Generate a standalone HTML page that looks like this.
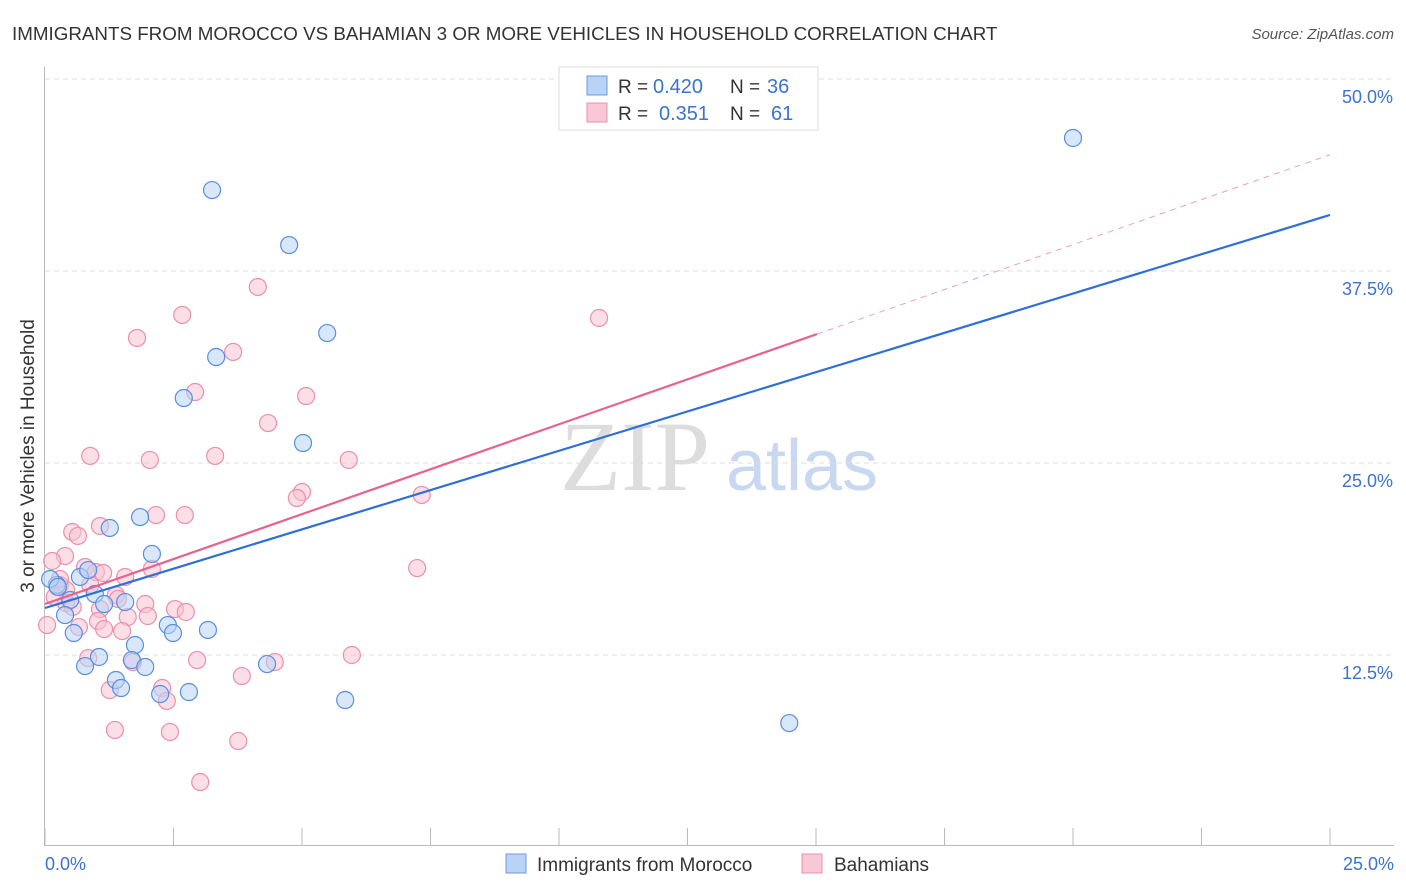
<!DOCTYPE html>
<html><head><meta charset="utf-8"><style>
body{margin:0;background:#fff;font-family:"Liberation Sans",sans-serif}
#wrap{position:relative;width:1406px;height:892px;overflow:hidden}
</style></head><body>
<div id="wrap">
<svg id="svg" width="1406" height="892" xmlns="http://www.w3.org/2000/svg">
<text x="12" y="40" font-size="18.8" fill="#333">IMMIGRANTS FROM MOROCCO VS BAHAMIAN 3 OR MORE VEHICLES IN HOUSEHOLD CORRELATION CHART</text>
<text x="1394" y="39" font-size="15" fill="#555" font-style="italic" text-anchor="end">Source: ZipAtlas.com</text>
<text x="34" y="456" font-size="19" fill="#333" text-anchor="middle" transform="rotate(-90 34 456)">3 or more Vehicles in Household</text>
<g><text x="635" y="490" font-size="100" fill="#ddd" font-family="Liberation Serif" text-anchor="middle">ZIP</text><text x="802" y="490" font-size="72" fill="#c8d8f0" text-anchor="middle">atlas</text></g>
<g id="grid"></g><g id="axes"></g><g id="pts"></g><g id="lines"></g>
<g>
<rect x="559" y="67" width="259" height="63" fill="#fff" stroke="#ddd"/>
<rect x="587" y="76" width="20" height="19" fill="#b8d3f5" stroke="#6a9be0"/>
<rect x="587" y="103" width="20" height="19" fill="#f8c8d6" stroke="#ec8fad"/>
<text x="618" y="93" font-size="19" fill="#333">R =</text>
<text x="653" y="93" font-size="20" fill="#3b73d1">0.420</text>
<text x="730" y="93" font-size="19" fill="#333">N =</text>
<text x="767" y="93" font-size="20" fill="#3b73d1">36</text>
<text x="618" y="120" font-size="19" fill="#333">R =</text>
<text x="659" y="120" font-size="20" fill="#3b73d1">0.351</text>
<text x="730" y="120" font-size="19" fill="#333">N =</text>
<text x="771" y="120" font-size="20" fill="#3b73d1">61</text>
</g>
<g>
<rect x="506" y="854" width="20" height="19" fill="#b8d3f5" stroke="#6a9be0"/>
<text x="537" y="871" font-size="19" fill="#333">Immigrants from Morocco</text>
<rect x="802" y="854" width="20" height="19" fill="#f8c8d6" stroke="#ec8fad"/>
<text x="834" y="871" font-size="19" fill="#333">Bahamians</text>
</g>
</svg></div>
<script>
const xTicks=[0,2.5,5,7.5,10,12.5,15,17.5,20,22.5,25];
const yTicks=[12.5,25,37.5,50];
const yTickLabels=["12.5%","25.0%","37.5%","50.0%"];
const blueX=[3.25,4.75,20.0,5.49,3.33,2.70,5.02,1.85,1.26,2.08,0.68,0.84,0.23,0.97,0.49,1.15,1.56,0.39,0.56,2.39,2.49,3.17,1.75,1.05,0.78,1.69,1.95,4.32,1.38,1.48,2.24,2.80,5.84,14.48,0.10,0.25];
const blueY=[42.77,39.19,46.16,33.46,31.90,29.23,26.30,21.48,20.77,19.08,17.58,18.03,17.06,16.47,16.08,15.82,15.95,15.10,13.93,14.45,13.93,14.13,13.15,12.37,11.78,12.17,11.72,11.91,10.87,10.35,9.96,10.09,9.57,8.07,17.45,16.93];
const pinkX=[4.14,2.67,1.79,3.66,10.78,2.92,5.08,4.34,0.88,2.04,3.31,5.91,5.00,4.90,7.33,2.16,2.72,0.53,1.07,0.64,0.39,0.14,0.78,0.99,1.56,2.08,7.24,0.29,0.41,0.88,1.38,0.41,0.54,1.07,1.95,2.53,1.61,2.00,1.03,0.66,1.15,1.50,0.04,0.84,1.71,2.96,4.47,5.97,2.28,3.83,1.26,2.37,1.36,2.43,3.76,3.02,0.29,0.19,1.42,1.13,2.74];
const pinkY=[36.46,34.64,33.14,32.23,34.44,29.62,29.36,27.60,25.46,25.20,25.46,25.20,23.11,22.72,22.92,21.61,21.61,20.51,20.90,20.25,18.94,18.62,18.23,17.90,17.58,18.10,18.16,17.06,16.73,17.06,16.41,15.89,15.63,15.49,15.82,15.49,14.97,15.04,14.71,14.32,14.19,14.06,14.45,12.30,12.04,12.17,12.04,12.50,10.35,11.13,10.22,9.51,7.62,7.49,6.90,4.23,17.45,16.28,16.15,17.84,15.30];
const blueFit=[15.56,41.15];
const pinkFit=[15.82,1.170];
const pinkSolidEnd=15.02;
const NS="http://www.w3.org/2000/svg";
const X=v=>45+v/25*1285, Y=v=>847-v*15.36;
function mk(t,a,p){const e=document.createElementNS(NS,t);for(const k in a)e.setAttribute(k,a[k]);p.appendChild(e);return e;}
const grid=document.getElementById('grid'),axes=document.getElementById('axes'),pts=document.getElementById('pts'),lines=document.getElementById('lines');
yTicks.forEach((v,i)=>{
 const l=mk('line',{x1:45,x2:1394,y1:Y(v),y2:Y(v),stroke:'#ddd','stroke-dasharray':'5,4'},grid);
 
 
 const t=mk('text',{x:1393,y:Y(v)+24,'font-size':18,fill:'#3b73d1','text-anchor':'end'},axes);t.textContent=yTickLabels[i];
 
 
});
mk('line',{x1:44.5,x2:44.5,y1:67,y2:846,stroke:'#bbb'},axes);
mk('line',{x1:44,x2:1394,y1:845.5,y2:845.5,stroke:'#bbb'},axes);
xTicks.forEach(v=>{const l=mk('line',{x1:X(v),x2:X(v),y1:828,y2:845,stroke:'#bbb'},axes);
 
 });
let t=mk('text',{x:45,y:870,'font-size':18,fill:'#3b73d1'},axes);t.textContent='0.0%';


t=mk('text',{x:1394,y:870,'font-size':18,fill:'#3b73d1','text-anchor':'end'},axes);t.textContent='25.0%';


function dots(xs,ys,fill,stroke,name){xs.forEach((x,i)=>{const c=mk('circle',{cx:X(x),cy:Y(ys[i]),r:8.5,fill:fill,'fill-opacity':0.55,stroke:stroke,'stroke-width':1.2},pts);
 
 });}
dots(pinkX,pinkY,'#f8c3d2','#ec8fad','bahamians-point');
dots(blueX,blueY,'#b8d3f5','#5a8ee0','morocco-point');
let l=mk('line',{x1:X(0),y1:Y(blueFit[0]),x2:X(25),y2:Y(blueFit[1]),stroke:'#2f6fd6','stroke-width':2.2},lines);


l=mk('line',{x1:X(0),y1:Y(pinkFit[0]),x2:X(pinkSolidEnd),y2:Y(pinkFit[0]+pinkFit[1]*pinkSolidEnd),stroke:'#e8628f','stroke-width':2.2},lines);


l=mk('line',{x1:X(pinkSolidEnd),y1:Y(pinkFit[0]+pinkFit[1]*pinkSolidEnd),x2:X(25),y2:Y(pinkFit[0]+pinkFit[1]*25),stroke:'#eea0b8','stroke-width':1,'stroke-dasharray':'6,5'},lines);


</script>
</body></html>
